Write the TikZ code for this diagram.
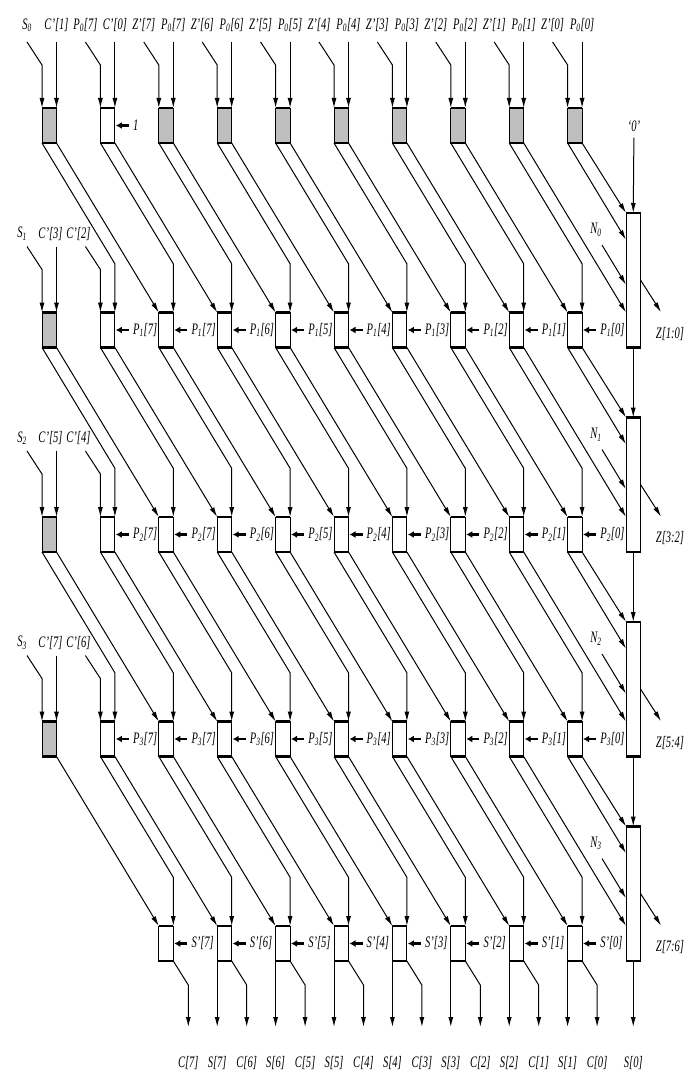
\documentclass[tikz,border=0pt]{standalone}
\usepackage{fontspec}
\setmainfont{Liberation Serif}[FakeStretch=0.66]
\usetikzlibrary{arrows.meta,calc}
\newcommand{\sbs}[1]{\textsubscript{#1}}
\tikzset{
  cell/.style ={draw,line width=0.9pt,fill=white,minimum width=14.5pt,minimum height=35pt,inner sep=0pt,outer sep=0pt,anchor=north west},
  wide/.style ={cell,minimum height=134.5pt},
  rim/.style  ={line width=2.2pt},
  wire/.style ={line width=1pt,-{Latex[length=10pt,width=5pt]}},
  feed/.style ={line width=2.2pt,-{Latex[length=6pt,width=7pt]},shorten <=3pt,shorten >=1pt},
  lbl/.style  ={font=\fontsize{16}{18}\selectfont\itshape,inner sep=1pt},
}

\begin{document}
\begin{tikzpicture}[x=1pt,y=-1pt]
  \useasboundingbox (0,0) rectangle (694,1075);

  % cells of the array
  \foreach \row in {0,...,3}
    \foreach \col in {0,...,9}{
      \def\fl{white}
      \ifnum\row=0 \ifnum\col=1 \else\def\fl{gray!50}\fi\fi
      \ifnum\col=0 \def\fl{gray!50}\fi
      \node[cell,fill=\fl] (b\row-\col) at ({42+58.4*\col},{108+204.5*\row}) {};
      \draw[rim] (b\row-\col.north west) -- (b\row-\col.north east)
                 (b\row-\col.south west) -- (b\row-\col.south east);
    }
  \foreach \col in {2,...,9}{
    \node[cell] (b4-\col) at ({42+58.4*\col},926) {};
    \draw[rim] (b4-\col.north west) -- (b4-\col.north east)
               (b4-\col.south west) -- (b4-\col.south east);
  }
  \foreach \row in {0,...,3}{
    \node[wide] (t\row) at (626,{213+204.5*\row}) {};
    \draw[rim] (t\row.north west) -- (t\row.north east)
               (t\row.south west) -- (t\row.south east);
  }

  % inputs of the first row
  \foreach \col/\la/\lb in {0/{S\sbs{0}}/{C'[1]},1/{P\sbs{0}[7]}/{C'[0]},2/{Z'[7]}/{P\sbs{0}[7]},
      3/{Z'[6]}/{P\sbs{0}[6]},4/{Z'[5]}/{P\sbs{0}[5]},5/{Z'[4]}/{P\sbs{0}[4]},6/{Z'[3]}/{P\sbs{0}[3]},
      7/{Z'[2]}/{P\sbs{0}[2]},8/{Z'[1]}/{P\sbs{0}[1]},9/{Z'[0]}/{P\sbs{0}[0]}}{
    \draw[wire] ($(b0-\col.north west)+(-15,-66)$) -- ++(15,23) -- (b0-\col.north west);
    \draw[wire] ($(b0-\col.north east)+(0,-66)$) -- (b0-\col.north east);
    \node[lbl,anchor=south] at ($(b0-\col.north west)+(-15,-75)$) {\la};
    \node[lbl,anchor=south] at ($(b0-\col.north east)+(0,-75)$) {\lb};
  }
  \node[lbl,anchor=west] (one) at ($(b0-1.east)+(17,0)$) {1};
  \draw[feed] (one) -- (b0-1);

  % inputs on the left of rows 1-3
  \foreach \row in {1,2,3}{
    \pgfmathtruncatemacro\ca{2*\row+1}
    \pgfmathtruncatemacro\cb{2*\row}
    \draw[wire] ($(b\row-0.north west)+(-15,-66)$) -- ++(15,23) -- (b\row-0.north west);
    \draw[wire] ($(b\row-0.north east)+(0,-66)$) -- (b\row-0.north east);
    \draw[wire] ($(b\row-1.north west)+(-15,-66)$) -- ++(15,23) -- (b\row-1.north west);
    \node[lbl,anchor=south] at ($(b\row-0.north west)+(-20,-71)$) {S\sbs{\row}};
    \node[lbl,anchor=south] at ($(b\row-0.north east)+(-6,-71)$) {C'[\ca]};
    \node[lbl,anchor=south] at ($(b\row-1.north west)+(-22,-71)$) {C'[\cb]};
  }

  % side inputs P and S'
  \foreach \row in {1,2,3}
    \foreach \col in {1,...,9}{
      \pgfmathtruncatemacro\bit{\col==1 ? 7 : 9-\col}
      \node[lbl,anchor=west] (p\row-\col) at ($(b\row-\col.east)+(17,0)$) {P\sbs{\row}[\bit]};
      \draw[feed] (p\row-\col) -- (b\row-\col);
    }
  \foreach \col in {2,...,9}{
    \pgfmathtruncatemacro\bit{9-\col}
    \node[lbl,anchor=west] (p4-\col) at ($(b4-\col.east)+(17,0)$) {S'[\bit]};
    \draw[feed] (p4-\col) -- (b4-\col);
  }

  % wires down to the next row
  \foreach \row in {0,...,3}
    \foreach \col in {0,...,9}{
      \pgfmathtruncatemacro\nr{\row+1}
      \pgfmathtruncatemacro\na{\col+1}
      \pgfmathtruncatemacro\nb{\col+2}
      \pgfmathtruncatemacro\nolw{(\row==3)&&(\col==0)}
      \ifnum\col<8
        \draw[wire] (b\row-\col.south east) -- (b\nr-\nb.north west);
      \fi
      \ifnum\col<9 \ifnum\nolw=0
        \draw[wire] (b\row-\col.south west) -- ($(b\nr-\na.north east)+(0,-48.7)$) -- (b\nr-\na.north east);
      \fi\fi
      \ifnum\col=8
        \draw[wire] let \p1=(b\row-8.south east), \p2=(t\row.west) in (\p1) -- (\x2,{\y1-(\x2-\x1)/0.6035});
      \fi
      \ifnum\col=9
        \draw[wire] (b\row-9.south east) -- (t\row.north west);
        \draw[wire] let \p1=(b\row-9.south west), \p2=(t\row.west) in (\p1) -- (\x2,{\y1-(\x2-\x1)/0.6035});
      \fi
    }

  % right-hand column
  \node[lbl] (zero) at (634,126) {`0'};
  \draw[wire,shorten <=5pt] (zero) -- (t0.north);
  \foreach \row [count=\nx] in {0,1,2}
    \draw[wire] (t\row.south) -- (t\nx.north);
  \foreach \row in {0,...,3}{
    \pgfmathtruncatemacro\zh{2*\row+1}
    \pgfmathtruncatemacro\zl{2*\row}
    \coordinate (n\row) at (602,{245+204.5*\row});
    \node[lbl] at (596,{230+204.5*\row}) {N\sbs{\row}};
    \draw[wire] let \p1=(n\row), \p2=(t\row.west) in (\p1) -- (\x2,{\y1-(\x2-\x1)/0.6035});
    \coordinate (z\row) at (661,{312+204.5*\row});
    \draw[wire] ($(t\row.north east)+(0,67)$) -- (z\row);
    \node[lbl] at (670,{334+204.5*\row}) {Z[\zh:\zl]};
  }

  % outputs
  \foreach \col in {2,...,9}{
    \pgfmathtruncatemacro\bit{9-\col}
    \draw[wire] (b4-\col.south east) -- ++(15,24) -- ++(0,42) coordinate (co\col);
    \node[lbl] at ($(co\col)+(0,36)$) {C[\bit]};
  }
  \foreach \col in {3,...,9}{
    \pgfmathtruncatemacro\bit{10-\col}
    \draw[wire] (b4-\col.south west) -- ++(0,66) coordinate (so\col);
    \node[lbl] at ($(so\col)+(0,36)$) {S[\bit]};
  }
  \draw[wire] (t3.south) -- ++(0,66) coordinate (so10);
  \node[lbl] at ($(so10)+(0,36)$) {S[0]};
\end{tikzpicture}
\end{document}
